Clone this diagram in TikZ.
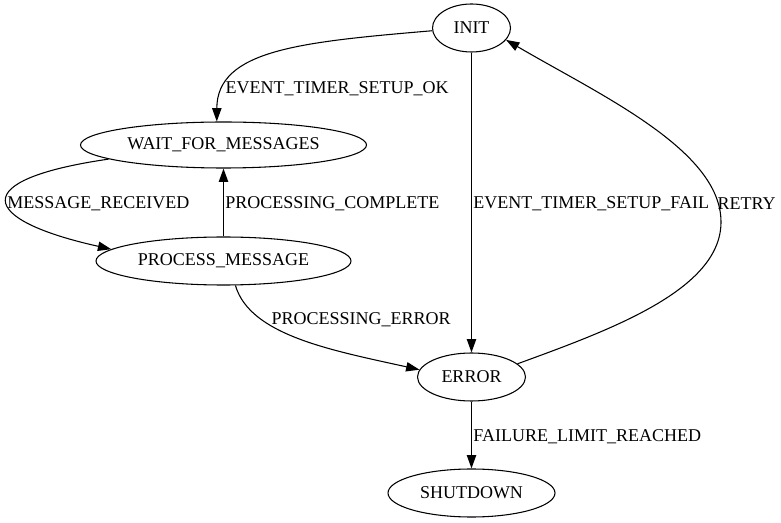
\documentclass[tikz,border=0pt]{standalone}
\usepackage{fontspec}
\setmainfont{Liberation Serif}
\usetikzlibrary{shapes.geometric,arrows.meta}
\begin{document}
\begin{tikzpicture}[x=0.75pt,y=-0.75pt,
  state/.style={draw,ellipse,inner sep=0pt,line width=0.8pt,minimum height=36pt,font=\fontsize{13.5}{16}\selectfont},
  edge/.style={draw,line width=0.8pt,-{Triangle[length=10pt,width=7pt]}},
  lbl/.style={anchor=west,inner sep=1pt,yshift=-1.2pt,font=\fontsize{13.5}{16}\selectfont}]
\useasboundingbox (0,0) rectangle (781,523);
\node[state,minimum width=58.5pt] (init) at (471.5,28) {INIT};
\node[state,minimum width=214.5pt,minimum height=34.5pt] (wait) at (223.5,145) {WAIT\_FOR\_MESSAGES};
\node[state,minimum width=191.25pt] (proc) at (223.5,261) {PROCESS\_MESSAGE};
\node[state,minimum width=81pt] (err) at (471.5,377) {ERROR};
\node[state,minimum width=125.25pt] (shut) at (471.5,493) {SHUTDOWN};
% INIT -> WAIT
\draw[edge] (init.184) .. controls (300,42) and (217,50) .. (wait.106);
\node[lbl] (l1) at (224,87) {EVENT\_TIMER\_SETUP\_OK};
% INIT -> ERROR
\draw[edge] (init) -- node[lbl] (l2) {EVENT\_TIMER\_SETUP\_FAIL} (err);
% ERROR -> INIT
\coordinate (rm) at (721,222);
\draw[edge] (err.16) .. controls (610,330) and (721,290) .. (rm) .. controls (721,150) and (600,95) .. (init.-19);
\node[lbl] (l3) at (716,202) {RETRY};
% WAIT -> PROCESS
\draw[edge] (wait.187) .. controls (-35,180) and (-20,220) .. (proc.174);
\node[lbl,inner sep=0pt] (l4) at (7,202) {MESSAGE\_RECEIVED};
% PROCESS -> WAIT
\draw[edge] (proc) -- node[lbl] (l5) {PROCESSING\_COMPLETE} (wait);
% PROCESS -> ERROR
\draw[edge] (proc.-64) .. controls (250,335) and (330,350) .. (err.172);
\node[lbl] (l6) at (270,318) {PROCESSING\_ERROR};
% ERROR -> SHUTDOWN
\draw[edge] (err) -- node[lbl] (l7) {FAILURE\_LIMIT\_REACHED} (shut);
\end{tikzpicture}
\end{document}
